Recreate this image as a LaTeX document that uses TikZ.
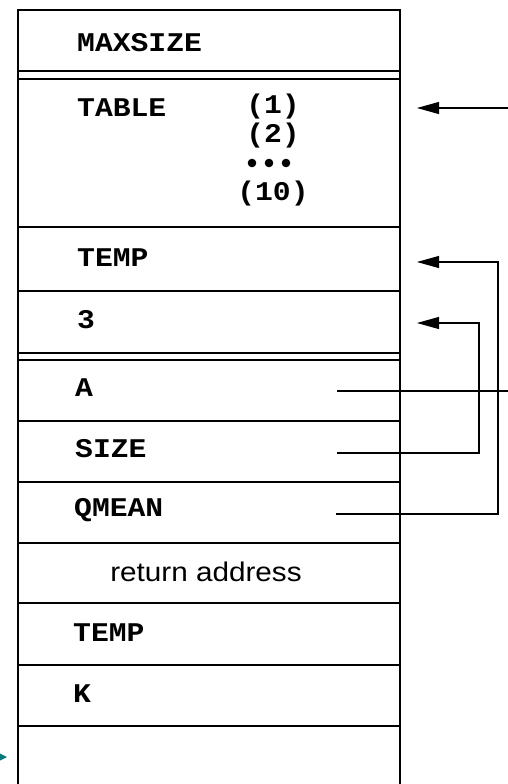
\documentclass[tikz,border=0pt]{standalone}
\usepackage{fontspec}
\usetikzlibrary{arrows.meta,positioning}
\newfontfamily\codefont[FakeStretch=1.1]{Liberation Mono}
\newfontfamily\plainfont[FakeStretch=1.1]{Liberation Sans}
\definecolor{tealmark}{RGB}{0,122,122}
\begin{document}
\begin{tikzpicture}[x=1pt, y=-1pt,
    every node/.style={inner sep=0pt, font=\fontsize{27}{30}\selectfont\codefont\bfseries},
    cellline/.style={line width=1.3pt},
    link/.style={line width=1.1pt},
    ptr/.style={link, -{Triangle[length=22pt,width=12pt]}}]
    \useasboundingbox (0,0) rectangle (508,784);
    \def\xl{18}
    \def\xr{400}

    % ── Stack frame ─────────────────────────────────────────────────────────
    \draw[cellline] (\xl,784) -- (\xl,10) -- (\xr,10) -- (\xr,784);
    \foreach \yy in {71,79,227,291,353,360,421,482,543,603,665,726} {
      \draw[cellline] (\xl,\yy) -- (\xr,\yy);
    }

    % ── Cell labels ─────────────────────────────────────────────────────────
    \foreach \nm/\xx/\yy/\txt in {maxsize/77/43/MAXSIZE, table/77/108/TABLE, tempa/77/258/TEMP,
        three/77/320/3, arga/75/388/A, size/75/449/SIZE, qmean/74/510/QMEAN,
        tempb/73/633/TEMP, kvar/73/694/K} {
      \node[anchor=west] (\nm) at (\xx,\yy) {\txt};
    }
    \node (idx1)  at (273,107) {(1)};
    \node (idx2)  at (273,136) {(2)};
    \foreach \i/\xx in {1/252, 2/269, 3/286} {
      \fill (\xx,163) circle (4.3pt) coordinate (dot\i);
    }
    \node (idx10) at (273,194) {(10)};
    \node[font=\fontsize{27}{30}\selectfont\plainfont] (retaddr) at (206,572) {return address};

    % ── Parameter links ─────────────────────────────────────────────────────
    \coordinate (tablein) at (417,108);
    \coordinate (tempin)  at (417,262);
    \coordinate (threein) at (417,323);
    \coordinate (tableext) at (508,108);
    \coordinate (aout)    at (337,391);
    \coordinate (aext)    at (508,391);
    \coordinate (sizeout) at (337,453);
    \coordinate (qout)    at (336,514);

    \draw[ptr] (tableext) -- (tablein);
    \draw[link] (aout) -- (aext);
    \draw[ptr] (sizeout) -| (479,323) -- (threein);
    \draw[ptr] (qout) -| (498,262) -- (tempin);

    % stack pointer mark
    \coordinate (sptip) at (7,757);
    \fill[tealmark] (sptip) -- (0,753.5) -- (0,760.5) -- cycle;
\end{tikzpicture}
\end{document}
